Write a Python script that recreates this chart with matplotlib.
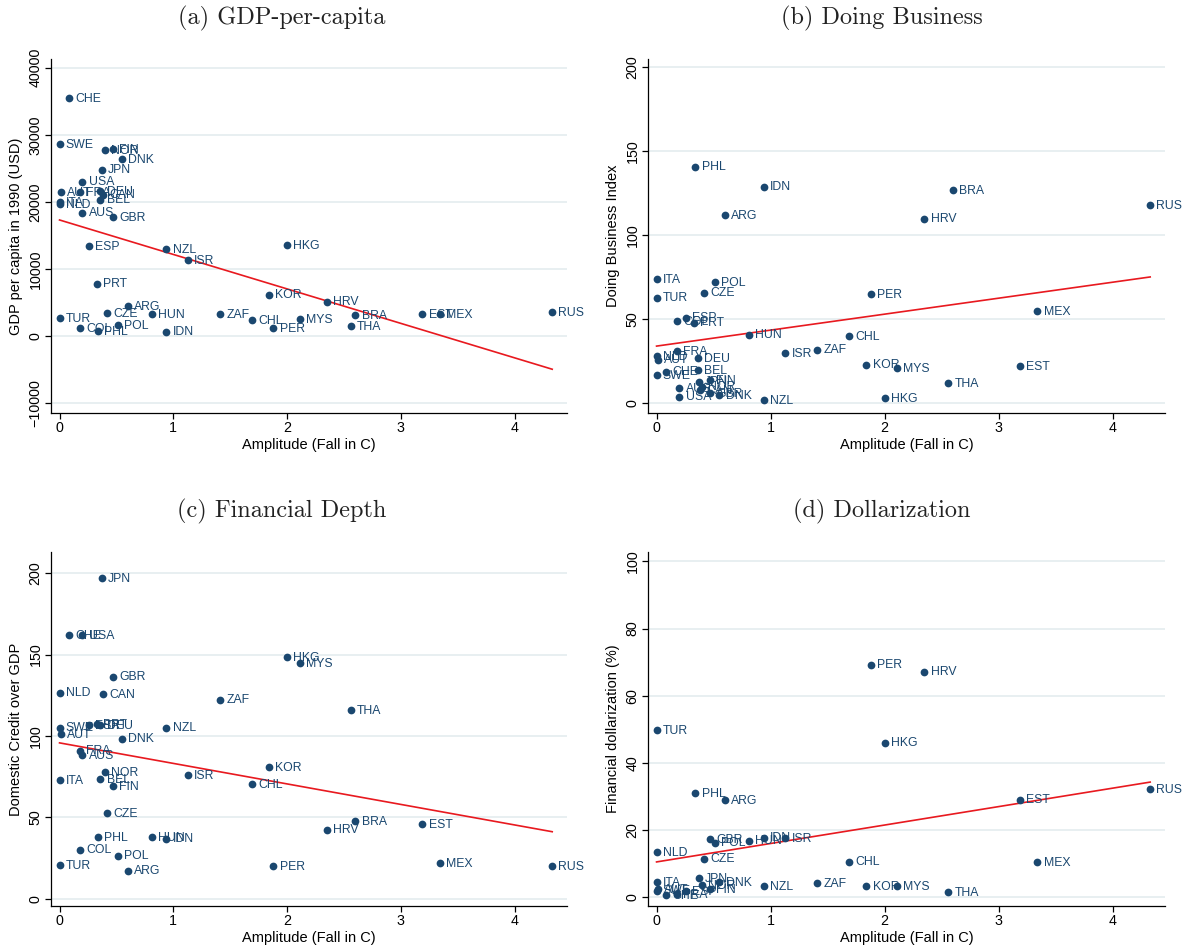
import numpy as np
import matplotlib
matplotlib.use("Agg")
import matplotlib.pyplot as plt

plt.rcParams['font.family'] = ['Liberation Sans', 'DejaVu Sans']

countries = ['CHE', 'SWE', 'NOR', 'FIN', 'DNK', 'JPN', 'USA', 'AUT', 'FRA', 'DEU',
             'CAN', 'BEL', 'ITA', 'NLD', 'AUS', 'GBR', 'ESP', 'NZL', 'ISR', 'HKG',
             'PRT', 'KOR', 'HRV', 'ARG', 'CZE', 'HUN', 'ZAF', 'CHL', 'MYS', 'BRA',
             'EST', 'MEX', 'RUS', 'TUR', 'COL', 'PHL', 'POL', 'IDN', 'PER', 'THA']

amplitude = [0.08, 0.00, 0.40, 0.47, 0.55, 0.37, 0.20, 0.01, 0.18, 0.36,
             0.38, 0.36, 0.00, 0.00, 0.20, 0.47, 0.26, 0.94, 1.13, 2.00,
             0.33, 1.84, 2.35, 0.60, 0.42, 0.81, 1.41, 1.69, 2.11, 2.60,
             3.19, 3.34, 4.33, 0.00, 0.18, 0.34, 0.51, 0.94, 1.88, 2.56]

gdp_pc = [35500, 28600, 27750, 27850, 26400, 24800, 23000, 21400, 21400, 21550,
          21050, 20300, 19900, 19700, 18400, 17700, 13400, 12950, 11250, 13500,
          7800, 6150, 5100, 4400, 3400, 3200, 3200, 2400, 2500, 3100,
          3200, 3200, 3500, 2650, 1150, 750, 1600, 650, 1200, 1500]

doing_business = [19, 17, 10, 14, 5, 13, 4, 26, 31, 27,
                  8, 20, 74, 28, 9, 6, 51, 2, 30, 3,
                  48, 23, 110, 112, 66, 41, 32, 40, 21, 127,
                  22, 55, 118, 63, 49, 141, 72, 129, 65, 12]

credit_gdp = [162, 105, 77.6, 69.2, 98.4, 197, 162, 101, 91, 106.5,
              125.6, 73.6, 72.8, 126.6, 88, 136.5, 106.5, 105, 75.8, 148.6,
              107.3, 80.8, 42.4, 17.3, 52.4, 37.9, 122.2, 70.2, 144.5, 47.6,
              46, 22, 20, 20.8, 30.2, 37.9, 26.4, 36.9, 19.8, 116]

nan = np.nan
dollarization = [0.5, 1.9, 3.5, 2.4, 4.4, 5.6, nan, 2.3, 0.8, nan,
                 nan, nan, 4.4, 13.4, nan, 17.2, 1.7, 3.3, 17.5, 46,
                 nan, 3.3, 67.1, 28.9, 11.4, 16.8, 4.1, 10.5, 3.3, nan,
                 29, 10.4, 32.2, 49.8, nan, 31, 16.2, 17.7, 69.2, 1.4]

NAVY = '#1a476f'
GRID = '#e6eef0'
W, H = 1194, 952


def add_panel(rect, yvals, ylabel, yticks, ylim, title, title_x, title_y):
    left, top, right, bottom = rect
    ax = fig.add_axes([left / W, 1 - bottom / H, (right - left) / W, (bottom - top) / H])
    x = np.asarray(amplitude, dtype=float)
    y = np.asarray(yvals, dtype=float)
    ok = ~np.isnan(y)

    ax.scatter(x[ok], y[ok], s=31, color=NAVY, linewidths=0, zorder=3)
    for name, xi, yi in zip(np.array(countries)[ok], x[ok], y[ok]):
        ax.annotate(name, (xi, yi), xytext=(4.5, -0.5), textcoords='offset points',
                    ha='left', va='center', fontsize=8.8, color=NAVY, zorder=4)

    # linear fit across the observed range
    slope, icpt = np.polyfit(x[ok], y[ok], 1)
    xs = np.array([x[ok].min(), x[ok].max()])
    ax.plot(xs, icpt + slope * xs, color='#e8191f', lw=1.2, zorder=2)

    ax.set_xlim(-0.075, 4.46)
    ax.set_ylim(*ylim)
    ax.set_xticks([0, 1, 2, 3, 4])
    ax.set_yticks(yticks)
    ax.yaxis.grid(True, color=GRID, lw=1.3)
    ax.set_axisbelow(True)
    for s in ['top', 'right']:
        ax.spines[s].set_visible(False)
    for s in ['left', 'bottom']:
        ax.spines[s].set_linewidth(0.9)
    ax.tick_params(length=4, width=0.9, labelsize=10.3, pad=2)
    for lab in ax.get_yticklabels():
        lab.set_rotation(90)
        lab.set_va('center')
    ax.set_xlabel('Amplitude (Fall in C)', fontsize=10.5, labelpad=2)
    ax.set_ylabel(ylabel, fontsize=10.5, labelpad=4)
    fig.text(title_x / W, 1 - title_y / H, title, family='cmr10', fontsize=17.5,
             ha='center', va='center', color='#222222')
    return ax


fig = plt.figure(figsize=(W / 100, H / 100), dpi=100)

add_panel((51, 59, 567, 413), gdp_pc, 'GDP per capita in 1990 (USD)',
          [-10000, 0, 10000, 20000, 30000, 40000], (-11500, 41300),
          '(a) GDP-per-capita', 282, 18)
add_panel((648, 59, 1165, 413), doing_business, 'Doing Business Index',
          [0, 50, 100, 150, 200], (-5.7, 205),
          '(b) Doing Business', 882, 18)
add_panel((51, 552, 567, 906), credit_gdp, 'Domestic Credit over GDP',
          [0, 50, 100, 150, 200], (-4.5, 213),
          '(c) Financial Depth', 282, 511)
add_panel((648, 552, 1165, 906), dollarization, 'Financial dollarization (%)',
          [0, 20, 40, 60, 80, 100], (-2.7, 102.8),
          '(d) Dollarization', 882, 511)

fig.savefig('out.png', dpi=100, facecolor='white')
